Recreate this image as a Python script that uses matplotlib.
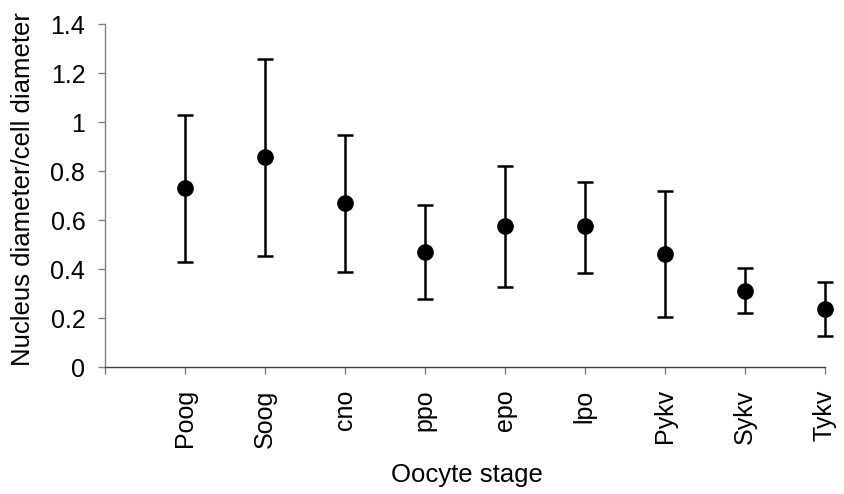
import matplotlib.pyplot as plt
import numpy as np

plt.rcParams['font.family'] = ['Liberation Sans', 'DejaVu Sans']

stages = ['Poog', 'Soog', 'cno', 'ppo', 'epo', 'lpo', 'Pykv', 'Sykv', 'Tykv']
ratio = [0.730, 0.856, 0.670, 0.471, 0.575, 0.574, 0.463, 0.312, 0.235]
err_low = [0.302, 0.403, 0.280, 0.193, 0.247, 0.188, 0.259, 0.093, 0.110]
err_high = [0.301, 0.401, 0.277, 0.190, 0.248, 0.182, 0.257, 0.092, 0.111]
yticks = [0, 0.2, 0.4, 0.6, 0.8, 1.0, 1.2, 1.4]
ytick_labels = ['0', '0.2', '0.4', '0.6', '0.8', '1', '1.2', '1.4']

x = np.arange(1, len(stages) + 1)

fig = plt.figure(figsize=(8.45, 4.94), dpi=100)
ax = fig.add_axes([0.124, 0.257, 0.852, 0.694])

ax.errorbar(x, ratio, yerr=[err_low, err_high], fmt='o', color='black',
            ecolor='black', elinewidth=1.8, capsize=5.8, capthick=1.8,
            markersize=11, clip_on=False, zorder=3)

ax.set_xlim(0, 9)
ax.set_ylim(0, 1.4)
ax.set_yticks(yticks)
ax.set_yticklabels(ytick_labels, fontsize=18)
ax.set_xticks(np.arange(0, 10))
ax.set_xticklabels([''] + stages, rotation=90, fontsize=18)

for side in ['top', 'right']:
    ax.spines[side].set_visible(False)
ax.spines['left'].set_color('#808080')
ax.spines['bottom'].set_color('#404040')
ax.spines['left'].set_linewidth(1.0)
ax.spines['bottom'].set_linewidth(1.0)
ax.tick_params(axis='both', direction='out', length=5, width=1.0,
               color='#808080')
ax.tick_params(axis='y', pad=9)
ax.tick_params(axis='x', pad=11)

ax.set_xlabel('Oocyte stage', fontsize=18.5, va='center')
ax.xaxis.set_label_coords(0.503, -0.315)
ax.set_ylabel('Nucleus diameter/cell diameter', fontsize=18.5, va='center')
ax.yaxis.set_label_coords(-0.114, 0.519)

fig.savefig('out.png', dpi=100, facecolor='white')
